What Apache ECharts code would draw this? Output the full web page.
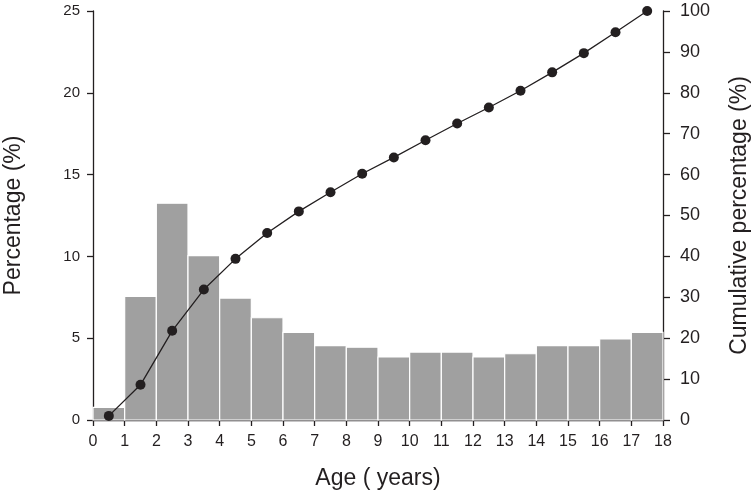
<!DOCTYPE html>
<html>
<head>
<meta charset="utf-8">
<script src="https://cdn.jsdelivr.net/npm/echarts@6/dist/echarts.min.js"></script>
<style>
  html, body { margin: 0; padding: 0; background: #fff; }
  #chart { width: 753px; height: 493px; }
</style>
</head>
<body>
<div id="chart"></div>
<script>
// age bins (years), one bar per [start, start + 1)
const binStarts = [0, 1, 2, 3, 4, 5, 6, 7, 8, 9, 10, 11, 12, 13, 14, 15, 16, 17]
// percentage per bin (left axis)
const percentage = [0.77, 7.55, 13.25, 10.05, 7.45, 6.25, 5.35, 4.55, 4.45, 3.85, 4.15, 4.15, 3.85, 4.05, 4.55, 4.55, 4.95, 5.35]
// cumulative percentage at bin middles (right axis)
const cumulative = [1.0, 8.6, 21.8, 31.9, 39.4, 45.7, 51.0, 55.7, 60.2, 64.2, 68.4, 72.5, 76.4, 80.5, 85.0, 89.7, 94.8, 100]

const ink = '#231f20'
const font = 'Liberation Sans, Arial, sans-serif'

const chart = echarts.init(document.getElementById('chart'))

const barData = binStarts.map((s, i) => [s, s + 1, percentage[i]])
const lineData = binStarts.map((s, i) => [s + 0.5, cumulative[i]])

const option = {
  animation: false,
  grid: { left: 93, right: 90, top: 11, bottom: 73, outerBoundsMode: 'none', containLabel: false },
  xAxis: {
    type: 'value',
    min: 0,
    max: 18,
    interval: 1,
    name: 'Age ( years)',
    nameLocation: 'middle',
    nameGap: 47,
    nameTextStyle: { fontFamily: font, fontSize: 23, color: ink },
    axisLine: { show: true, lineStyle: { color: ink, width: 1.3 } },
    axisTick: { show: true, length: 6, lineStyle: { color: ink, width: 1.3 } },
    axisLabel: { fontFamily: font, fontSize: 16, color: ink, margin: 14 },
    splitLine: { show: false }
  },
  yAxis: [
    {
      type: 'value',
      min: 0,
      max: 25,
      interval: 5,
      name: 'Percentage (%)',
      nameLocation: 'middle',
      nameGap: 68,
      nameRotate: 90,
      nameTextStyle: { fontFamily: font, fontSize: 23, color: ink },
      axisLine: { show: true, lineStyle: { color: ink, width: 1.3 } },
      axisTick: { show: true, length: 6, lineStyle: { color: ink, width: 1.3 } },
      axisLabel: { fontFamily: font, fontSize: 15, color: ink, margin: 13 },
      splitLine: { show: false }
    },
    {
      type: 'value',
      position: 'right',
      min: 0,
      max: 100,
      interval: 10,
      name: 'Cumulative percentage (%)',
      nameLocation: 'middle',
      nameGap: 65,
      nameRotate: 90,
      nameTextStyle: { fontFamily: font, fontSize: 23, color: ink },
      axisLine: { show: true, lineStyle: { color: ink, width: 1.3 } },
      axisTick: { show: true, length: 7, lineStyle: { color: ink, width: 1.3 } },
      axisLabel: { fontFamily: font, fontSize: 18, color: ink, margin: 17 },
      splitLine: { show: false }
    }
  ],
  series: [
    {
      name: 'Percentage',
      type: 'custom',
      xAxisIndex: 0,
      yAxisIndex: 0,
      data: barData,
      encode: { x: [0, 1], y: 2 },
      renderItem: (params, api) => {
        const topLeft = api.coord([api.value(0), api.value(2)])
        const bottomRight = api.coord([api.value(1), 0])
        return {
          type: 'rect',
          shape: {
            x: topLeft[0],
            y: topLeft[1],
            width: bottomRight[0] - topLeft[0],
            height: bottomRight[1] - topLeft[1]
          },
          style: { fill: '#a0a0a0', stroke: '#ffffff', lineWidth: 1.2 }
        }
      }
    },
    {
      name: 'Cumulative',
      type: 'line',
      xAxisIndex: 0,
      yAxisIndex: 1,
      data: lineData,
      symbol: 'circle',
      symbolSize: 10,
      lineStyle: { color: ink, width: 1.3 },
      itemStyle: { color: ink },
      z: 5
    }
  ]
}

chart.setOption(option)
window.addEventListener('resize', () => chart.resize())
</script>
</body>
</html>
